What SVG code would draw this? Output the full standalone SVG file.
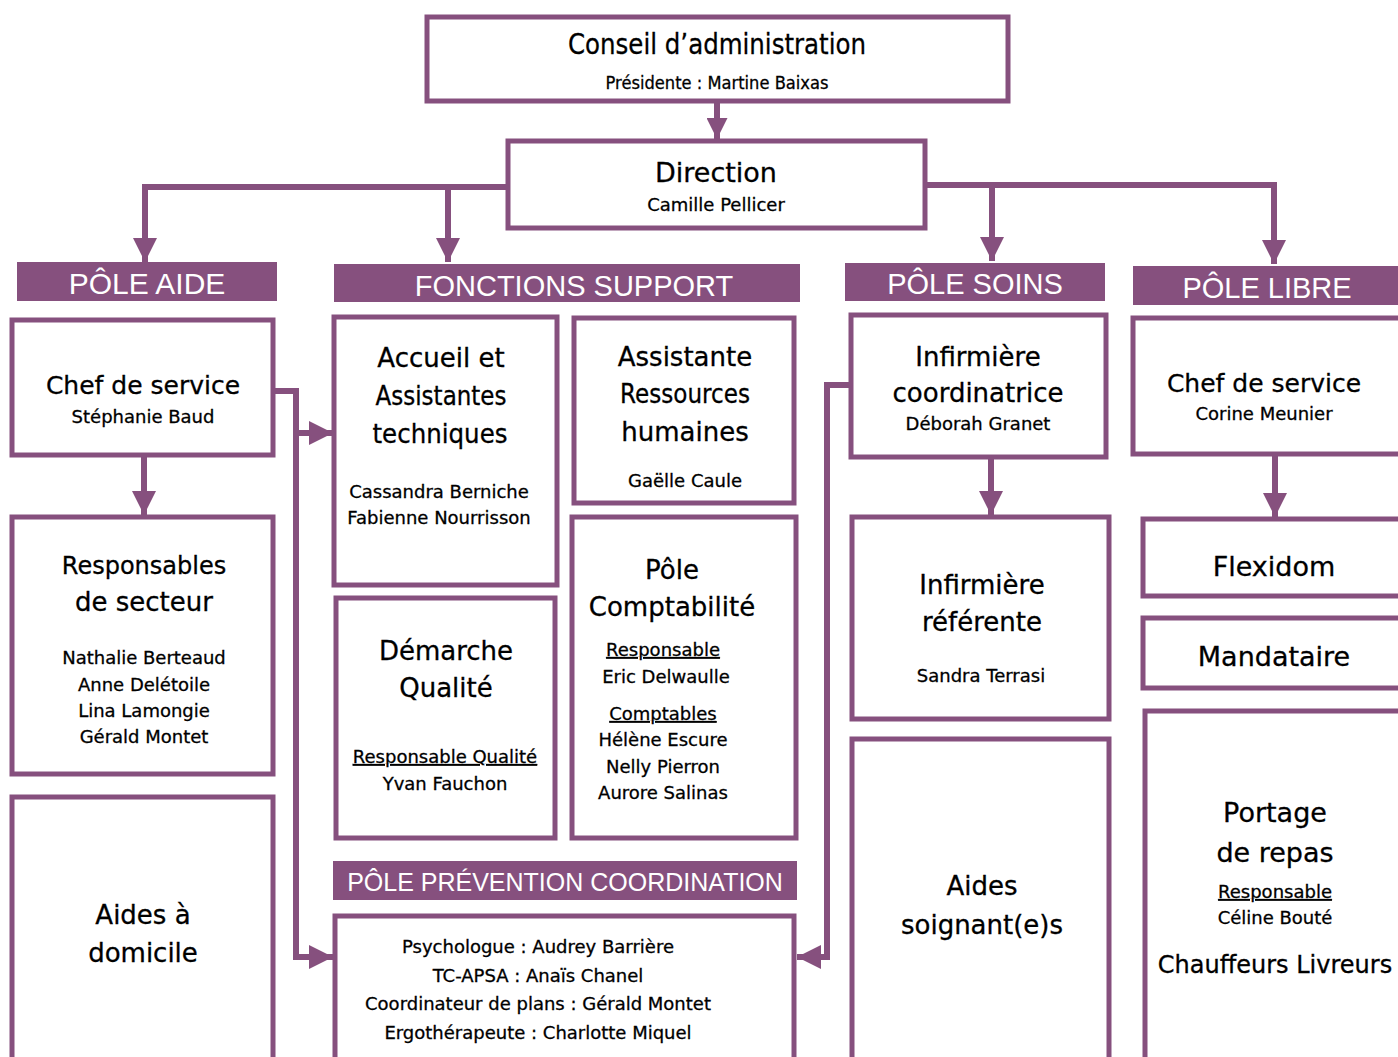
<svg xmlns="http://www.w3.org/2000/svg" width="1398" height="1057" viewBox="0 0 1398 1057">
<style>
.box{fill:#fff;stroke:#86507e;stroke-width:5}
.hdr{fill:#86507e}
.ht{fill:#fff;font-family:"Liberation Sans",Arial,sans-serif;font-size:29px;text-anchor:middle}
.t{fill:#000;stroke:#000;stroke-width:0.3;font-family:"DejaVu Sans","Liberation Sans",sans-serif;text-anchor:middle}
.big{font-size:27px}
.mid{font-size:26px}
.sm{font-size:18px}
.u{text-decoration:underline}
.c{fill:none;stroke:#86507e;stroke-width:6}
</style>
<defs>
<marker id="ah" viewBox="0 0 10 10" refX="10" refY="5" markerWidth="4" markerHeight="4" markerUnits="strokeWidth" orient="auto">
<path d="M0,0 L10,5 L0,10 z" fill="#86507e"/>
</marker>
<marker id="ahs" viewBox="0 0 10 10" refX="10" refY="5" markerWidth="3.5" markerHeight="3.5" markerUnits="strokeWidth" orient="auto">
<path d="M0,0 L10,5 L0,10 z" fill="#86507e"/>
</marker>
</defs>
<rect width="1398" height="1057" fill="#fff"/>
<g id="connectors">
<path class="c" d="M717,101 V139" marker-end="url(#ahs)"/>
<path class="c" d="M507,187 H145 V262" marker-end="url(#ah)"/>
<path class="c" d="M448,187 V262" marker-end="url(#ah)"/>
<path class="c" d="M926,185 H1274 V264" marker-end="url(#ah)"/>
<path class="c" d="M992,185 V261" marker-end="url(#ah)"/>
<path class="c" d="M144,456 V515" marker-end="url(#ah)"/>
<path class="c" d="M274,391 H296 V957 H333" marker-end="url(#ah)"/>
<path class="c" d="M296,433 H333" marker-end="url(#ah)"/>
<path class="c" d="M850,385 H827 V957 H797" marker-end="url(#ah)"/>
<path class="c" d="M991,458 V515" marker-end="url(#ah)"/>
<path class="c" d="M1275,455 V517" marker-end="url(#ah)"/>
</g>
<g id="conseil">
<rect class="box" x="427" y="17" width="581" height="84"/>
<text class="t" x="717" y="54" font-size="29" textLength="298" lengthAdjust="spacingAndGlyphs">Conseil d’administration</text>
<text class="t" x="717" y="89" font-size="18" textLength="223" lengthAdjust="spacingAndGlyphs">Présidente : Martine Baixas</text>
</g>
<g id="direction">
<rect class="box" x="508" y="141" width="417" height="87"/>
<text class="t big" x="716" y="182">Direction</text>
<text class="t sm" x="716" y="211">Camille Pellicer</text>
</g>
<g id="h-aide"><rect class="hdr" x="17" y="262" width="260" height="39"/><text class="ht" x="147" y="294" style="font-size:30px">PÔLE AIDE</text></g>
<g id="h-support"><rect class="hdr" x="334" y="264" width="466" height="38"/><text class="ht" x="574" y="296">FONCTIONS SUPPORT</text></g>
<g id="h-soins"><rect class="hdr" x="845" y="263" width="260" height="38"/><text class="ht" x="975" y="294">PÔLE SOINS</text></g>
<g id="h-libre"><rect class="hdr" x="1133" y="266" width="270" height="39"/><text class="ht" x="1267" y="298">PÔLE LIBRE</text></g>
<g id="h-prevention"><rect class="hdr" x="333" y="861" width="464" height="39"/><text class="ht" x="565" y="891" style="font-size:25px">PÔLE PRÉVENTION COORDINATION</text></g>
<g id="chef-aide">
<rect class="box" x="12" y="320" width="261" height="135"/>
<text class="t" x="143" y="394" font-size="25">Chef de service</text>
<text class="t sm" x="143" y="423">Stéphanie Baud</text>
</g>
<g id="responsables">
<rect class="box" x="12" y="517" width="261" height="257"/>
<text class="t" x="144" y="574" font-size="24">Responsables</text>
<text class="t mid" x="144" y="611">de secteur</text>
<text class="t sm" x="144" y="664">Nathalie Berteaud</text>
<text class="t sm" x="144" y="691">Anne Delétoile</text>
<text class="t sm" x="144" y="717">Lina Lamongie</text>
<text class="t sm" x="144" y="743">Gérald Montet</text>
</g>
<g id="aides-domicile">
<rect class="box" x="12" y="797" width="261" height="280"/>
<text class="t mid" x="143" y="924">Aides à</text>
<text class="t mid" x="143" y="962">domicile</text>
</g>
<g id="accueil">
<rect class="box" x="334" y="317" width="223" height="268"/>
<text class="t mid" x="441" y="367">Accueil et</text>
<text class="t mid" x="441" y="405" textLength="131" lengthAdjust="spacingAndGlyphs">Assistantes</text>
<text class="t mid" x="440" y="443" textLength="135" lengthAdjust="spacingAndGlyphs">techniques</text>
<text class="t sm" x="439" y="498">Cassandra Berniche</text>
<text class="t sm" x="439" y="524">Fabienne Nourrisson</text>
</g>
<g id="rh">
<rect class="box" x="574" y="318" width="220" height="185"/>
<text class="t mid" x="685" y="366">Assistante</text>
<text class="t mid" x="685" y="403" textLength="130" lengthAdjust="spacingAndGlyphs">Ressources</text>
<text class="t mid" x="685" y="441">humaines</text>
<text class="t sm" x="685" y="487">Gaëlle Caule</text>
</g>
<g id="qualite">
<rect class="box" x="336" y="598" width="219" height="240"/>
<text class="t mid" x="446" y="660">Démarche</text>
<text class="t mid" x="446" y="697">Qualité</text>
<text class="t sm u" x="445" y="763">Responsable Qualité</text>
<text class="t sm" x="445" y="790">Yvan Fauchon</text>
</g>
<g id="comptabilite">
<rect class="box" x="572" y="517" width="224" height="321"/>
<text class="t mid" x="672" y="579">Pôle</text>
<text class="t mid" x="672" y="616">Comptabilité</text>
<text class="t sm u" x="663" y="656">Responsable</text>
<text class="t sm" x="666" y="683">Eric Delwaulle</text>
<text class="t sm u" x="663" y="720">Comptables</text>
<text class="t sm" x="663" y="746">Hélène Escure</text>
<text class="t sm" x="663" y="773">Nelly Pierron</text>
<text class="t sm" x="663" y="799">Aurore Salinas</text>
</g>
<g id="prevention">
<rect class="box" x="335" y="916" width="459" height="160"/>
<text class="t sm" x="538" y="953">Psychologue : Audrey Barrière</text>
<text class="t sm" x="538" y="982">TC-APSA : Anaïs Chanel</text>
<text class="t sm" x="538" y="1010">Coordinateur de plans : Gérald Montet</text>
<text class="t sm" x="538" y="1039">Ergothérapeute : Charlotte Miquel</text>
</g>
<g id="inf-coord">
<rect class="box" x="851" y="315" width="255" height="142"/>
<text class="t mid" x="978" y="366">Infirmière</text>
<text class="t mid" x="978" y="402">coordinatrice</text>
<text class="t sm" x="978" y="430">Déborah Granet</text>
</g>
<g id="inf-ref">
<rect class="box" x="852" y="517" width="257" height="202"/>
<text class="t mid" x="982" y="594">Infirmière</text>
<text class="t mid" x="982" y="631">référente</text>
<text class="t sm" x="981" y="682">Sandra Terrasi</text>
</g>
<g id="aides-soignants">
<rect class="box" x="852" y="739" width="257" height="340"/>
<text class="t mid" x="982" y="895">Aides</text>
<text class="t mid" x="982" y="934">soignant(e)s</text>
</g>
<g id="chef-libre">
<rect class="box" x="1133" y="318" width="280" height="136"/>
<text class="t" x="1264" y="392" font-size="25">Chef de service</text>
<text class="t sm" x="1264" y="420">Corine Meunier</text>
</g>
<g id="flexidom">
<rect class="box" x="1143" y="519" width="270" height="77"/>
<text class="t big" x="1274" y="576">Flexidom</text>
</g>
<g id="mandataire">
<rect class="box" x="1143" y="618" width="270" height="70"/>
<text class="t big" x="1274" y="666">Mandataire</text>
</g>
<g id="portage">
<rect class="box" x="1145" y="711" width="270" height="370"/>
<text class="t big" x="1275" y="822">Portage</text>
<text class="t big" x="1275" y="862">de repas</text>
<text class="t sm u" x="1275" y="898">Responsable</text>
<text class="t sm" x="1275" y="924">Céline Bouté</text>
<text class="t" x="1275" y="973" font-size="24">Chauffeurs Livreurs</text>
</g>
</svg>
